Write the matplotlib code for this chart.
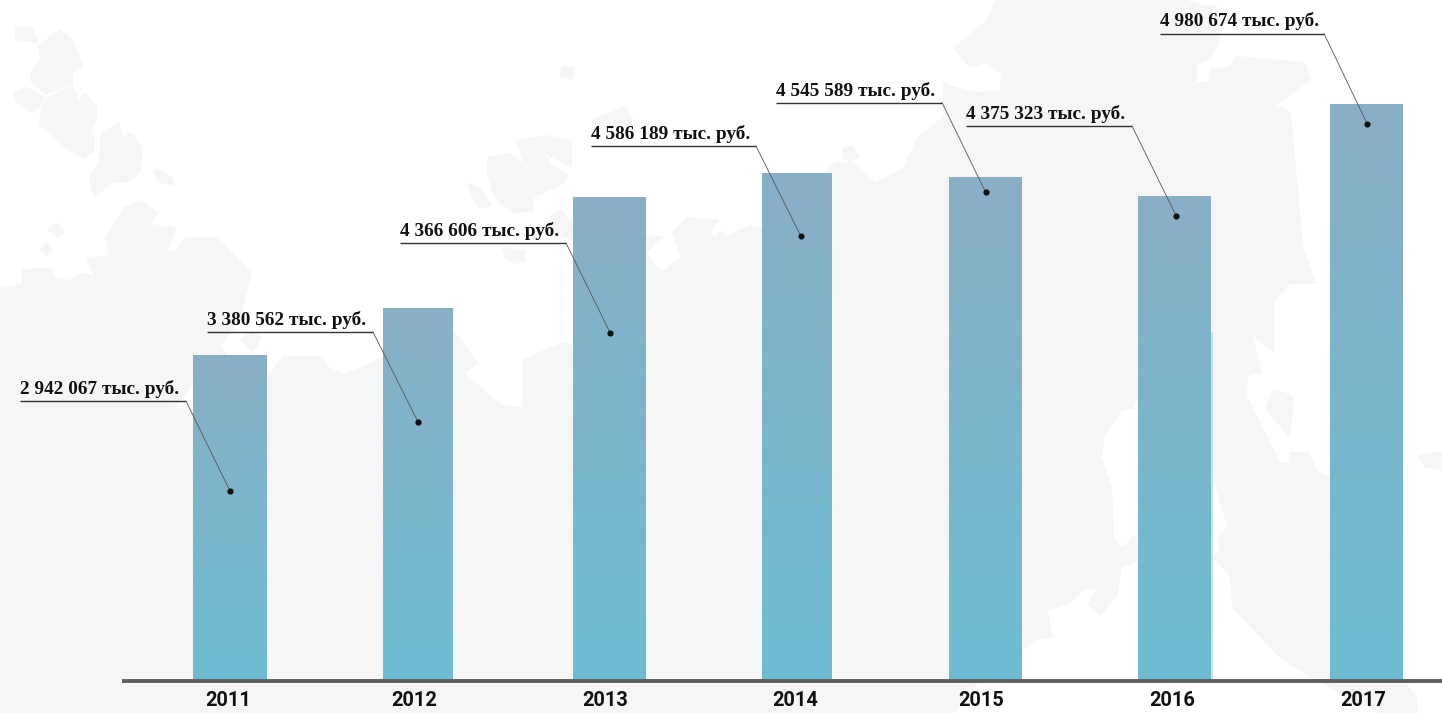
import numpy as np
import matplotlib
matplotlib.use('Agg')
import matplotlib.pyplot as plt
from matplotlib.colors import LinearSegmentedColormap
from matplotlib.patches import Polygon

years = [2011, 2012, 2013, 2014, 2015, 2016, 2017]
# values printed on the labels
label_values = [2942067, 3380562, 4366606, 4586189, 4545589, 4375323, 4980674]
# heights as drawn, the 2017 bar is taller than its label says
bar_values = [2942067, 3365000, 4366606, 4586189, 4545589, 4375323, 5210000]

# layout in pixels of the 1442x713 picture
bar_left = [193, 383, 573, 762, 949, 1138, 1330]
bar_right = [267, 453, 646, 832, 1022, 1211, 1403]
tick_x = [228, 414, 605, 795, 981, 1172, 1363]
under_x0 = [20, 207, 400, 591, 776, 966, 1160]
under_x1 = [186, 373, 566, 756, 942, 1132, 1324]
under_y = [401, 332, 243, 146, 102.5, 126, 33.5]
dot_x = [230, 418, 610, 800.5, 985.5, 1176, 1367]
dot_y = [491, 422, 332.5, 235.5, 192, 215.5, 123.5]

BASE_Y = 680
PX = 9045.0  # value per pixel


def py(y):
    return (BASE_Y - y) * PX


""" Background map, traced by hand, pixel coordinates """
mainland = [(0, 288), (22, 284), (22, 269), (52, 268), (55, 277), (71, 280), (82, 273), (94, 275), (86, 257),
            (109, 256), (105, 238), (124, 207), (142, 200), (158, 213), (152, 224), (176, 228), (168, 251),
            (175, 251), (186, 237), (218, 237), (252, 273), (240, 320), (222, 345), (230, 365), (268, 376),
            (283, 356), (323, 356), (328, 366), (343, 375), (382, 358), (454, 330), (478, 363), (465, 373),
            (500, 404), (522, 407), (522, 360), (562, 342), (573, 345), (646, 237), (663, 236), (647, 253),
            (662, 272), (680, 257), (672, 232), (688, 217), (720, 220), (710, 233), (717, 237), (720, 230),
            (728, 235), (750, 225), (762, 228), (832, 165), (835, 162), (855, 163), (876, 183), (903, 168),
            (918, 136), (943, 117), (943, 83), (975, 92), (1000, 90), (1001, 74), (987, 63), (970, 68),
            (953, 48), (987, 20), (995, 0), (1187, 0), (1202, 5), (1217, 5), (1220, 43), (1210, 58),
            (1197, 65), (1197, 82), (1208, 82), (1210, 68), (1228, 67), (1237, 56), (1305, 62), (1311, 80),
            (1277, 105), (1291, 112), (1303, 245), (1308, 260), (1317, 284), (1290, 284), (1274, 301),
            (1274, 352), (1253, 336), (1262, 373), (1248, 376), (1247, 396), (1280, 462), (1288, 463),
            (1290, 452), (1309, 452), (1317, 471), (1330, 478), (1403, 627), (1406, 630), (1403, 632),
            (1403, 680), (1417, 697), (1418, 713), (1380, 713), (1314, 680), (1280, 658), (1232, 607),
            (1230, 577), (1213, 557), (1220, 550), (1217, 538), (1227, 527), (1212, 473), (1137, 400),
            (1134, 409), (1122, 410), (1105, 435), (1102, 457), (1112, 488), (1114, 538), (1123, 547),
            (1133, 535), (1137, 537), (1150, 550), (1137, 562), (1122, 567), (1118, 595), (1100, 616),
            (1087, 604), (1096, 589), (1085, 589), (1069, 604), (1048, 610), (1052, 637), (1038, 640),
            (1022, 651), (978, 683), (955, 713), (0, 713)]
islands = [
    [(15, 27), (32, 26), (38, 43), (15, 40)],
    [(60, 29), (73, 40), (84, 67), (73, 73), (73, 84), (46, 95), (31, 82), (30, 72), (40, 59), (38, 45)],
    [(13, 91), (27, 87), (45, 97), (41, 106), (31, 113), (16, 103)],
    [(46, 98), (73, 85), (79, 100), (85, 92), (97, 106), (97, 120), (90, 132), (95, 138), (94, 152), (83, 159),
     (64, 147), (48, 132), (38, 125), (41, 108)],
    [(101, 132), (120, 122), (122, 138), (131, 132), (143, 147), (141, 170), (131, 182), (112, 183), (94, 198),
     (89, 178), (99, 160)],
    [(154, 168), (172, 177), (174, 186), (156, 182)],
    [(57, 222), (65, 232), (57, 237), (47, 230)],
    [(46, 242), (53, 250), (47, 256), (40, 250)],
    [(240, 340), (252, 330), (262, 337), (258, 345), (252, 352)],
    [(487, 157), (510, 153), (523, 163), (516, 140), (546, 135), (572, 140), (572, 168), (542, 152), (553, 165),
     (569, 175), (562, 185), (535, 197), (533, 212), (512, 213), (494, 197), (487, 173)],
    [(590, 125), (595, 118), (605, 115), (625, 105), (636, 123), (630, 128)],
    [(550, 215), (560, 209), (573, 222), (573, 240), (555, 235)],
    [(467, 182), (482, 189), (492, 206), (480, 209), (472, 198)],
    [(502, 247), (525, 250), (525, 262), (515, 264), (505, 258)],
    [(562, 65), (575, 68), (572, 80), (559, 77)],
    [(842, 148), (853, 145), (859, 157), (850, 163), (842, 158)],
    [(1272, 389), (1282, 391), (1294, 397), (1290, 438), (1265, 410)],
    [(1417, 456), (1433, 452), (1442, 452), (1442, 471), (1424, 467)],
]
white_wedge = [(175, 408), (193, 383), (193, 408)]

fig = plt.figure(figsize=(14.42, 7.13), dpi=100)
ax = fig.add_axes([0, 0, 1, 1])
ax.axis('off')

for poly in [mainland] + islands:
    ax.add_patch(Polygon([(x, py(y)) for x, y in poly], closed=True, fc='#f6f6f6', ec='none', zorder=1))
ax.add_patch(Polygon([(x, py(y)) for x, y in white_wedge], closed=True, fc='white', ec='none', zorder=1))

"""Bars with a vertical gradient clipped to each one"""
cmap = LinearSegmentedColormap.from_list('bar', ['#6dbdd2', '#8aafc6'])
grad = np.linspace(1, 0, 256).reshape(-1, 1)
lefts = np.array(bar_left, dtype=float)
widths = np.array(bar_right, dtype=float) - lefts
bars = ax.bar(lefts, bar_values, width=widths, align='edge', color='none', zorder=2)
for rect, left, width, height in zip(bars, lefts, widths, bar_values):
    im = ax.imshow(grad, cmap=cmap, vmin=0, vmax=1, aspect='auto', zorder=2,
                   extent=[left, left + width, 0, height])
    im.set_clip_path(rect)

# thin lighter sliver beside the 2016 bar
ax.bar(bar_right[5], bar_values[5] * 0.72, width=2, align='edge', color='#bfe6ec', zorder=2)

ax.plot([122, 1442], [py(681), py(681)], color='#5c5e60', lw=2.8, solid_capstyle='butt', zorder=3)

for i, year in enumerate(years):
    ax.text(tick_x[i], py(701), str(year), ha='center', va='center', family='Roboto', weight='bold',
            fontsize=14.4, color='#111111', zorder=5)

    label = f'{label_values[i]:,}'.replace(',', ' ') + ' тыс. руб.'
    ax.text(under_x0[i], py(under_y[i] - 7), label, ha='left', va='baseline', family='Liberation Serif',
            weight='bold', fontsize=13.9, color='#111111', zorder=5)
    ax.plot([under_x0[i], under_x1[i]], [py(under_y[i])] * 2, color='#333333', lw=1.0,
            solid_capstyle='butt', zorder=4)
    ax.plot([under_x1[i], dot_x[i]], [py(under_y[i]), py(dot_y[i])], color='#555555', lw=0.6, zorder=4)
    ax.scatter([dot_x[i]], [py(dot_y[i])], s=20, color='#111111', linewidths=0, zorder=5)

ax.set_xlim(0, 1442)
ax.set_ylim(py(713), py(0))

fig.savefig('out.png', dpi=100)
